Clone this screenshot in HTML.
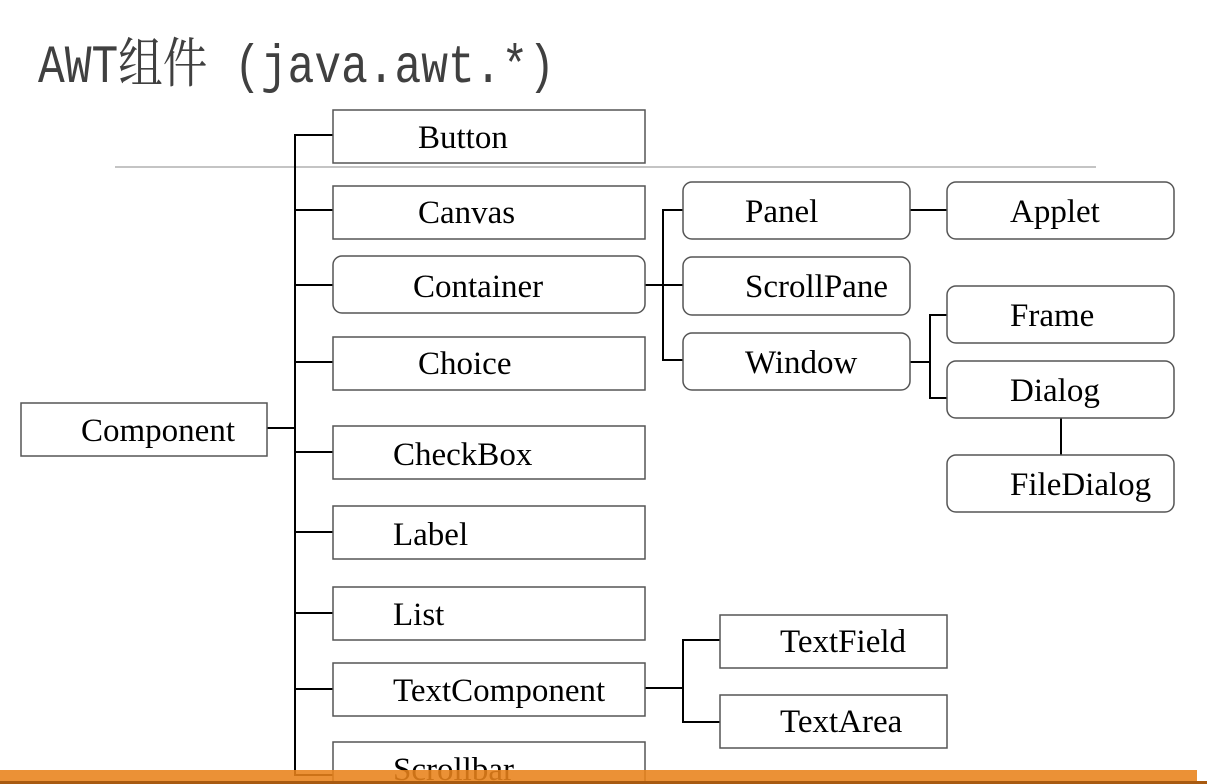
<!DOCTYPE html>
<html><head><meta charset="utf-8"><style>
html,body{margin:0;padding:0;background:#fff;}
</style></head><body>
<svg width="1207" height="784" viewBox="0 0 1207 784" xmlns="http://www.w3.org/2000/svg" style="display:block">
<text x="38" y="82" font-family="'Liberation Mono','Noto Serif CJK SC',monospace" font-size="54" fill="#404040" textLength="517" lengthAdjust="spacingAndGlyphs">AWT组件 (java.awt.*)</text>
<line x1="115" y1="167" x2="1096" y2="167" stroke="#888" stroke-width="1"/>
<g stroke="#000" stroke-width="2" fill="none">
<polyline points="333,135 295,135 295,775 333,775"/>
<line x1="267" y1="428" x2="295" y2="428"/>
<line x1="295" y1="210" x2="333" y2="210"/>
<line x1="295" y1="285" x2="333" y2="285"/>
<line x1="295" y1="362" x2="333" y2="362"/>
<line x1="295" y1="452" x2="333" y2="452"/>
<line x1="295" y1="532" x2="333" y2="532"/>
<line x1="295" y1="613" x2="333" y2="613"/>
<line x1="295" y1="689" x2="333" y2="689"/>
<line x1="645" y1="285" x2="683" y2="285"/>
<polyline points="683,210 663,210 663,360 683,360"/>
<line x1="910" y1="210" x2="947" y2="210"/>
<line x1="910" y1="362" x2="930" y2="362"/>
<polyline points="947,315 930,315 930,398 947,398"/>
<line x1="1061" y1="418" x2="1061" y2="455"/>
<line x1="645" y1="688" x2="683" y2="688"/>
<polyline points="720,640 683,640 683,722 720,722"/>
</g>
<g stroke="#555" stroke-width="1.5" fill="#fff">
<rect x="21" y="403" width="246" height="53"/>
<rect x="333" y="110" width="312" height="53"/>
<rect x="333" y="186" width="312" height="53"/>
<rect x="333" y="256" width="312" height="57" rx="9"/>
<rect x="333" y="337" width="312" height="53"/>
<rect x="333" y="426" width="312" height="53"/>
<rect x="333" y="506" width="312" height="53"/>
<rect x="333" y="587" width="312" height="53"/>
<rect x="333" y="663" width="312" height="53"/>
<rect x="333" y="742" width="312" height="60"/>
<rect x="683" y="182" width="227" height="57" rx="9"/>
<rect x="683" y="257" width="227" height="58" rx="9"/>
<rect x="683" y="333" width="227" height="57" rx="9"/>
<rect x="947" y="182" width="227" height="57" rx="9"/>
<rect x="947" y="286" width="227" height="57" rx="9"/>
<rect x="947" y="361" width="227" height="57" rx="9"/>
<rect x="947" y="455" width="227" height="57" rx="9"/>
<rect x="720" y="615" width="227" height="53"/>
<rect x="720" y="695" width="227" height="53"/>
</g>
<g font-family="'Liberation Serif',serif" font-size="33" fill="#000">
<text x="81" y="441">Component</text>
<text x="418" y="148">Button</text>
<text x="418" y="223">Canvas</text>
<text x="413" y="297">Container</text>
<text x="418" y="374">Choice</text>
<text x="393" y="465">CheckBox</text>
<text x="393" y="545">Label</text>
<text x="393" y="625">List</text>
<text x="393" y="701">TextComponent</text>
<text x="393" y="780">Scrollbar</text>
<text x="745" y="222">Panel</text>
<text x="745" y="297">ScrollPane</text>
<text x="745" y="373">Window</text>
<text x="1010" y="222">Applet</text>
<text x="1010" y="326">Frame</text>
<text x="1010" y="401">Dialog</text>
<text x="1010" y="495">FileDialog</text>
<text x="780" y="652">TextField</text>
<text x="780" y="732">TextArea</text>
</g>
<rect x="0" y="770" width="1197" height="12" fill="#e8821a" fill-opacity="0.88"/>
<rect x="0" y="781" width="1207" height="3" fill="#a85a10"/>
</svg>
</body></html>
